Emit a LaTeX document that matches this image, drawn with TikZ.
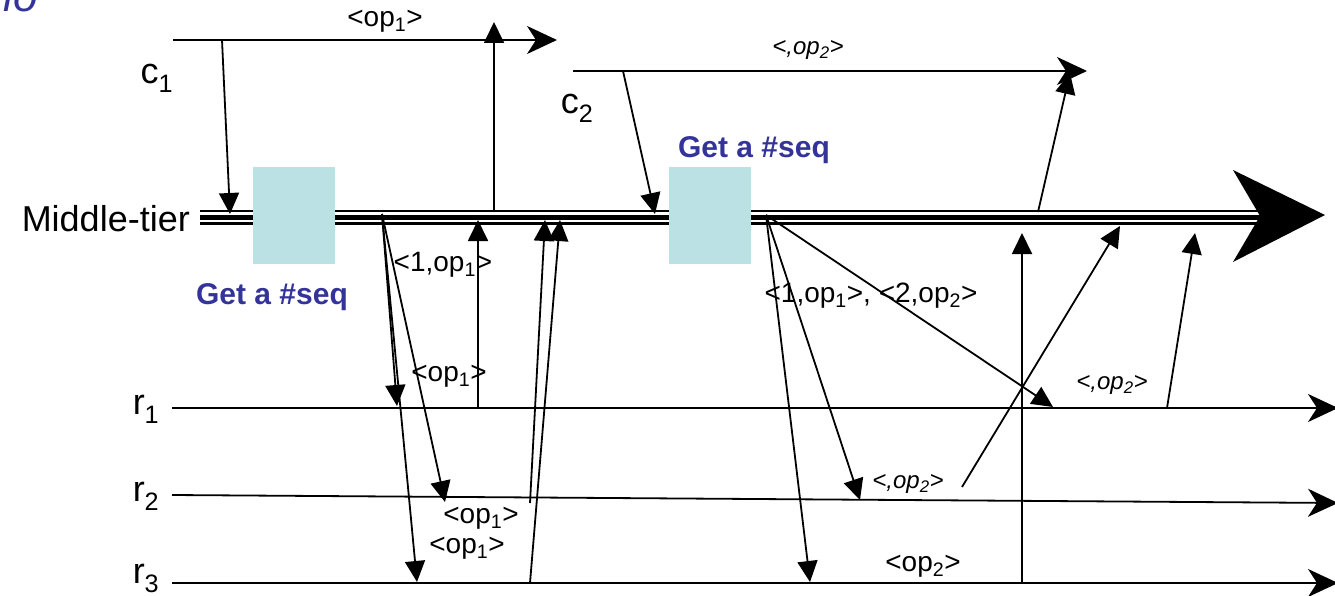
\documentclass[tikz,border=0pt]{standalone}
\usepackage{fontspec}
\setmainfont{Liberation Sans}
\usetikzlibrary{arrows.meta}
\definecolor{seqblue}{HTML}{333399}
\definecolor{boxfill}{HTML}{BCE1E4}
\begin{document}
\begin{tikzpicture}[x=1pt,y=-1pt,
  msg/.style={line width=1.8pt,-{Triangle[length=21pt,width=20pt]}},
  tl/.style={line width=1.8pt,-{Stealth[length=30pt,width=28pt,inset=9pt]}},
  big/.style={font=\fontsize{36}{40}\selectfont,inner sep=0pt},
  lbl/.style={font=\fontsize{28}{30}\selectfont,inner sep=0pt},
  ilbl/.style={font=\fontsize{24}{26}\selectfont\itshape,inner sep=0pt},
  seq/.style={font=\fontsize{30}{32}\selectfont\bfseries,text=seqblue,inner sep=0pt},
  seqbox/.style={fill=boxfill,draw=none,minimum width=82pt,minimum height=97pt,inner sep=0pt}]
\useasboundingbox (0,0) rectangle (1335,596);

% partial title fragment
\node[anchor=base east,font=\fontsize{44}{48}\selectfont\itshape,text=seqblue,inner sep=0pt] (title) at (38,12) {io};

% ---- coordinates
\coordinate (c1s) at (173,40);  \coordinate (c1e) at (557,40);
\coordinate (c2s) at (573,71);  \coordinate (c2e) at (1087,71);
\coordinate (r1s) at (172,408); \coordinate (r1e) at (1338,408);
\coordinate (r2s) at (172,495); \coordinate (r2e) at (1338,503);
\coordinate (r3s) at (172,583); \coordinate (r3e) at (1338,583);
\coordinate (mts) at (200,217); \coordinate (mte) at (1262,217);

% ---- labels
\node[big,anchor=east] (mtl) at (190,219) {Middle-tier};
\node[big] (c1l) at (157,78) {c\textsubscript{1}};
\node[big] (c2l) at (577,108) {c\textsubscript{2}};
\node[big] (r1l) at (146,409) {r\textsubscript{1}};
\node[big] (r2l) at (146,496) {r\textsubscript{2}};
\node[big] (r3l) at (146,578) {r\textsubscript{3}};

% ---- client lines
\draw[tl] (c1s) -- (c1e);
\draw[tl] (c2s) -- (c2e);

% ---- replica lines
\draw[tl] (r1s) -- (r1e);
\draw[tl] (r2s) -- (r2e);
\draw[tl] (r3s) -- (r3e);

% ---- middle tier
\draw[line width=15pt] (mts) -- (mte);
\draw[line width=10pt,white] ([xshift=-1pt]mts) -- ([xshift=1pt]mte);
\draw[line width=5pt] (mts) -- (mte);
\fill (1325,215) -- (1233,170) -- (1260,216) -- (1233,262) -- cycle;

% ---- seq boxes
\node[seqbox,anchor=north west] (box1) at (253,167) {};
\node[seqbox,anchor=north west] (box2) at (669,167) {};
\node[seq] (seq1) at (272,297) {Get a \#seq};
\node[seq] (seq2) at (754,150) {Get a \#seq};

% ---- first operation
\coordinate (a1) at (222,40);  \coordinate (a1e) at (230,214);
\draw[msg] (a1) -- (a1e);
\coordinate (f1) at (382,214);
\coordinate (f1a) at (397,406); \coordinate (f1b) at (445,502); \coordinate (f1c) at (417,582);
\draw[msg] (f1) -- (f1a);
\draw[msg] (f1) -- (f1b);
\draw[msg] (f1) -- (f1c);
\coordinate (u1s) at (478,408); \coordinate (u1e) at (478,220);
\draw[msg] (u1s) -- (u1e);
\coordinate (u2s) at (530,503); \coordinate (u2e) at (545,220);
\draw[msg] (u2s) -- (u2e);
\coordinate (u3s) at (530,583); \coordinate (u3e) at (560,220);
\draw[msg] (u3s) -- (u3e);
\coordinate (rp1s) at (494,212); \coordinate (rp1e) at (494,22);
\draw[msg] (rp1s) -- (rp1e);

% ---- second operation
\coordinate (a2) at (623,71);  \coordinate (a2e) at (655,214);
\draw[msg] (a2) -- (a2e);
\coordinate (f2) at (766,215);
\coordinate (f2a) at (1053,407); \coordinate (f2b) at (860,500); \coordinate (f2c) at (810,582);
\draw[msg] (f2) -- (f2a);
\draw[msg] (f2) -- (f2b);
\draw[msg] (f2) -- (f2c);
\coordinate (v3s) at (1022,583); \coordinate (v3e) at (1022,233);
\draw[msg] (v3s) -- (v3e);
\coordinate (d2s) at (962,487); \coordinate (d2e) at (1120,226);
\draw[msg] (d2s) -- (d2e);
\coordinate (d1s) at (1167,408); \coordinate (d1e) at (1195,233);
\draw[msg] (d1s) -- (d1e);
\coordinate (rp2s) at (1038,212); \coordinate (rp2e) at (1070,73);
\draw[msg] (rp2s) -- (rp2e);

% ---- message labels
\node[lbl] (l1) at (385,21) {<op\textsubscript{1}>};
\node[ilbl] (l2) at (808,50) {<,op\textsubscript{2}>};
\node[lbl] (l3) at (443,265) {<1,op\textsubscript{1}>};
\node[lbl] (l4) at (449,376) {<op\textsubscript{1}>};
\node[lbl] (l5) at (481,518) {<op\textsubscript{1}>};
\node[lbl] (l6) at (467,548) {<op\textsubscript{1}>};
\node[lbl] (l7) at (871,296) {<1,op\textsubscript{1}>, <2,op\textsubscript{2}>};
\node[ilbl] (l8) at (1112,385) {<,op\textsubscript{2}>};
\node[ilbl] (l9) at (908,484) {<,op\textsubscript{2}>};
\node[lbl] (l10) at (923,566) {<op\textsubscript{2}>};
\end{tikzpicture}
\end{document}
